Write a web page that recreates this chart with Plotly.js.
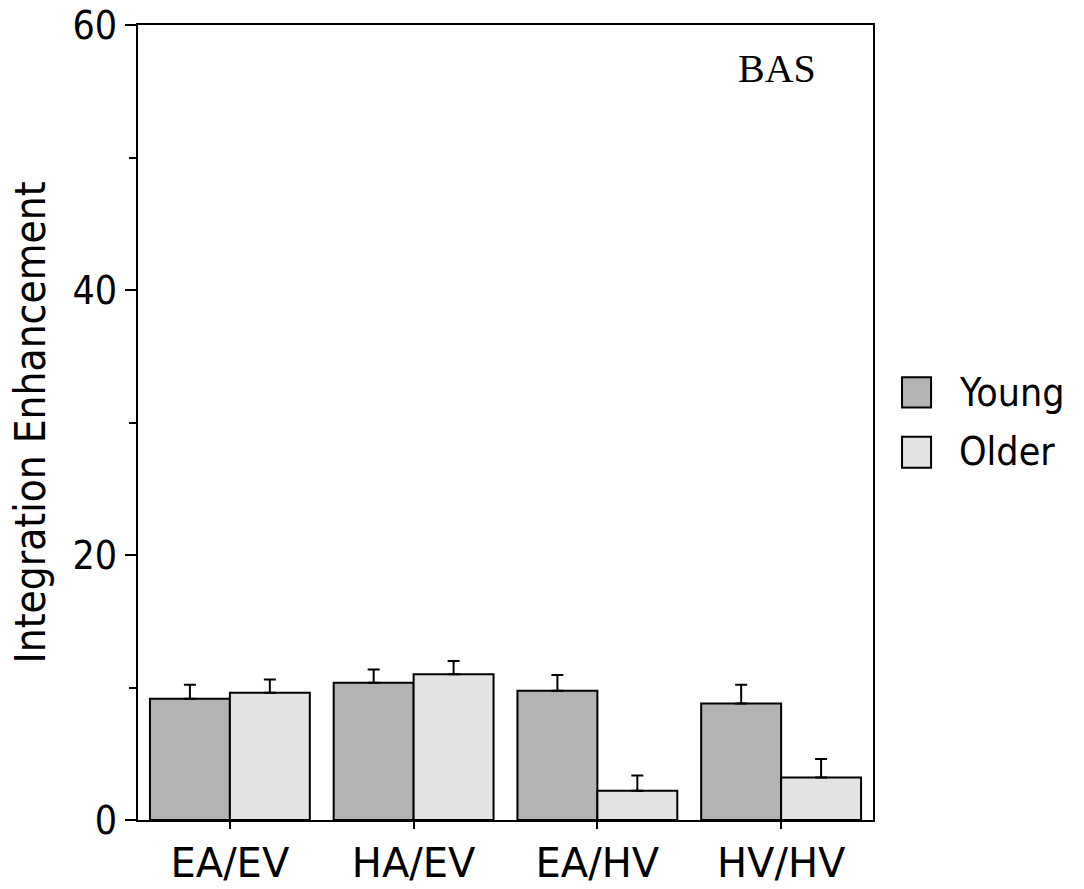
<!DOCTYPE html>
<html>
<head>
<meta charset="utf-8">
<script src="https://cdn.plot.ly/plotly-3.0.1.min.js"></script>
<style>html,body{margin:0;padding:0;background:#fff;}#chart{width:1084px;height:889px;}</style>
</head>
<body>
<div id="chart"></div>
<script>
const categories = ["EA/EV", "HA/EV", "EA/HV", "HV/HV"];
const seriesNames = ["Young", "Older"];
const youngValues = [9.15, 10.35, 9.75, 8.8];
const youngErrors = [1.05, 1.0, 1.2, 1.4];
const olderValues = [9.6, 11.0, 2.2, 3.2];
const olderErrors = [1.0, 1.0, 1.15, 1.4];
const colors = ["#b3b3b3", "#e3e3e3"];
const panelLabel = "BAS";
const yTitle = "Integration Enhancement";

const fontC = "DejaVu Sans Condensed, DejaVu Sans, sans-serif";
const fontN = "DejaVu Sans, sans-serif";

function barTrace(name, vals, errs, color) {
  return {
    type: "bar", name: name, x: categories, y: vals,
    marker: {color: color, line: {color: "#000", width: 2}},
    error_y: {type: "data", array: errs, arrayminus: errs.map(() => 0), symmetric: false,
              color: "#000", thickness: 2, width: 6},
    showlegend: false, hoverinfo: "skip"
  };
}

const data = [
  barTrace(seriesNames[0], youngValues, youngErrors, colors[0]),
  barTrace(seriesNames[1], olderValues, olderErrors, colors[1])
];

// plot area: y from 25 (top) to 820 (bottom), 795 px
const legendBoxes = [[0.557, 0.519], [0.482, 0.443]];
const legendTextY = [0.538, 0.463];

const shapes = seriesNames.map((n, i) => ({
  type: "rect", xref: "paper", yref: "paper",
  x0: 1.0395, x1: 1.079, y0: legendBoxes[i][1], y1: legendBoxes[i][0],
  fillcolor: colors[i], line: {color: "#000", width: 2}
}));

const annotations = seriesNames.map((n, i) => ({
  text: n, xref: "paper", yref: "paper", x: 1.114, y: legendTextY[i],
  xanchor: "left", yanchor: "middle", showarrow: false,
  font: {family: fontC, size: 39, color: "#000"}
}));
annotations.push({
  text: panelLabel, xref: "paper", yref: "paper", x: 0.869, y: 0.945,
  xanchor: "center", yanchor: "middle", showarrow: false,
  font: {family: "Liberation Serif, Times New Roman, serif", size: 40, color: "#000"}
});

const layout = {
  width: 1084, height: 889,
  margin: {l: 138, r: 211, t: 25, b: 69, pad: 0},
  paper_bgcolor: "#fff", plot_bgcolor: "#fff",
  barmode: "group", bargap: 0.13, bargroupgap: 0,
  font: {family: fontC, color: "#000"},
  xaxis: {
    type: "category", showline: true, linecolor: "#000", linewidth: 2, mirror: true,
    ticks: "outside", ticklen: 7, tickwidth: 2, tickcolor: "#000",
    tickfont: {family: fontN, size: 40, color: "#000"}, showgrid: false, automargin: false
  },
  yaxis: {
    range: [0, 60], dtick: 20, tick0: 0, showline: true, linecolor: "#000", linewidth: 2, mirror: true,
    ticks: "outside", ticklen: 11, tickwidth: 2, tickcolor: "#000",
    minor: {dtick: 10, ticks: "outside", ticklen: 7, tickwidth: 2, tickcolor: "#000"},
    tickfont: {family: fontC, size: 39, color: "#000"}, showgrid: false, zeroline: false,
    ticklabeloverflow: "allow",
    automargin: false,
    title: {text: yTitle, font: {family: fontC, size: 42, color: "#000"}, standoff: 14}
  },
  shapes: shapes,
  annotations: annotations
};

Plotly.newPlot("chart", data, layout, {staticPlot: true});
</script>
</body>
</html>
